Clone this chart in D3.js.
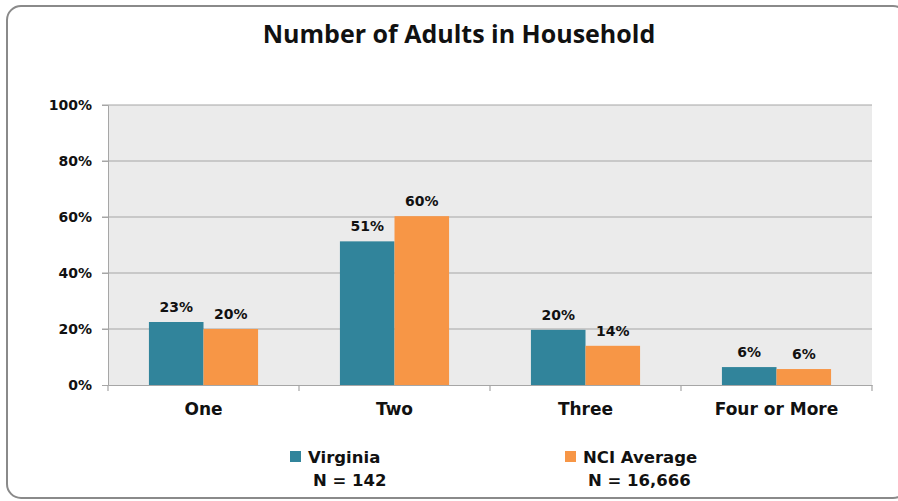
<!DOCTYPE html>
<html><head><meta charset="utf-8">
<script src="https://cdn.jsdelivr.net/npm/d3@7"></script>
<style>body{margin:0;background:#fff}svg{display:block}</style>
</head><body>
<svg id="c" width="898" height="501"></svg>
<script>
const categories = ["One", "Two", "Three", "Four or More"];
const seriesNames = ["Virginia", "NCI Average"];
const seriesN = ["N = 142", "N = 16,666"];
const virginia = [22.5, 51.3, 19.7, 6.4];
const nciAverage = [20.0, 60.3, 14.0, 5.7];
const valueLabels = [["23%", "51%", "20%", "6%"], ["20%", "60%", "14%", "6%"]];
const yTicks = [0, 20, 40, 60, 80, 100];
const colors = ["#31849B", "#F79646"];

const svg = d3.select("#c");
const m = {left: 108, right: 872, top: 105, bottom: 385};

// outer border
svg.append("rect").attr("x", 7).attr("y", 6).attr("width", 900).attr("height", 492)
  .attr("rx", 14).attr("fill", "#fff").attr("stroke", "#8a8a8a").attr("stroke-width", 2);

svg.append("text").attr("x", 459).attr("y", 43).attr("text-anchor", "middle")
  .attr("font-family", "Open Sans").attr("font-weight", 700).attr("font-size", 25)
  .attr("fill", "#111").text("Number of Adults in Household");

const x = d3.scaleBand().domain(categories).range([m.left, m.right]).paddingInner(0).paddingOuter(0);
const y = d3.scaleLinear().domain([0, 100]).range([m.bottom, m.top]);

svg.append("rect").attr("x", m.left).attr("y", m.top).attr("width", m.right - m.left)
  .attr("height", m.bottom - m.top).attr("fill", "#EBEBEB");

// gridlines
svg.append("g").selectAll("line").data(yTicks.filter(d => d > 0)).join("line")
  .attr("x1", m.left - 6).attr("x2", m.right).attr("y1", d => y(d)).attr("y2", d => y(d))
  .attr("stroke", "#a6a6a6").attr("stroke-width", 1.2);

// y axis
const yAxis = d3.axisLeft(y).tickValues(yTicks).tickFormat(d => d + "%").tickSize(6).tickPadding(10);
const ya = svg.append("g").attr("transform", `translate(${m.left},0)`).call(yAxis);
ya.select(".domain").attr("stroke", "#a6a6a6");
ya.selectAll(".tick line").attr("stroke", "#a6a6a6");
ya.selectAll("text").attr("font-family", "DejaVu Sans").attr("font-weight", 700)
  .attr("font-size", 14).attr("fill", "#111");

// x axis
const xa = svg.append("g").attr("transform", `translate(0,${m.bottom})`)
  .call(d3.axisBottom(x).tickSize(0).tickPadding(18));
xa.select(".domain").attr("stroke", "#a6a6a6").attr("stroke-width", 1.2);
xa.selectAll("text").attr("font-family", "DejaVu Sans").attr("font-weight", 700)
  .attr("font-size", 17).attr("fill", "#111");
const bounds = categories.map(c => x(c)).concat([m.right]);
svg.append("g").selectAll("line").data(bounds).join("line")
  .attr("x1", d => d).attr("x2", d => d).attr("y1", m.bottom).attr("y2", m.bottom + 6)
  .attr("stroke", "#a6a6a6").attr("stroke-width", 1.2);

const inner = d3.scaleBand().domain([0, 1]).range([0, x.bandwidth()]).paddingOuter(0.75).paddingInner(0);
const series = [virginia, nciAverage];
series.forEach((vals, si) => {
  const g = svg.append("g");
  g.selectAll("rect").data(vals).join("rect")
    .attr("x", (d, i) => x(categories[i]) + inner(si))
    .attr("y", d => y(d)).attr("width", inner.bandwidth())
    .attr("height", d => y(0) - y(d)).attr("fill", colors[si]);
  g.selectAll("text").data(vals).join("text")
    .attr("x", (d, i) => x(categories[i]) + inner(si) + inner.bandwidth() / 2)
    .attr("y", d => y(d) - 10).attr("text-anchor", "middle")
    .attr("font-family", "DejaVu Sans").attr("font-weight", 700).attr("font-size", 14)
    .attr("fill", "#111").text((d, i) => valueLabels[si][i]);
});

// legend
const legX = [290, 565];
seriesNames.forEach((s, i) => {
  svg.append("rect").attr("x", legX[i]).attr("y", 451).attr("width", 11).attr("height", 11).attr("fill", colors[i]);
  svg.append("text").attr("x", legX[i] + 18).attr("y", 463)
    .attr("font-family", "DejaVu Sans").attr("font-weight", 700).attr("font-size", 16.5)
    .attr("fill", "#111").text(s);
  svg.append("text").attr("x", legX[i] + 23).attr("y", 486)
    .attr("font-family", "DejaVu Sans").attr("font-weight", 700).attr("font-size", 16.5)
    .attr("fill", "#111").text(seriesN[i]);
});
</script>
</body></html>
